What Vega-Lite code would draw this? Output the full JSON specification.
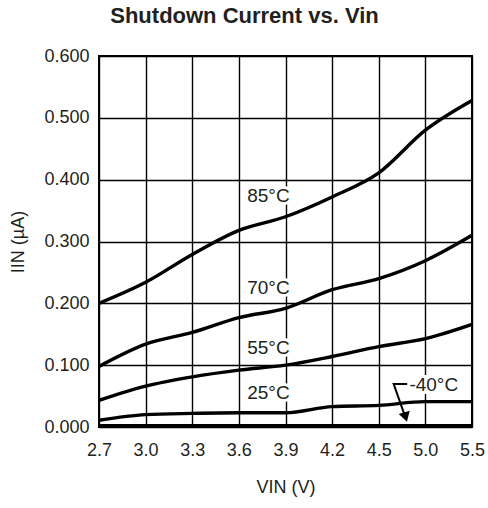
{
  "$schema": "https://vega.github.io/schema/vega-lite/v6.json",
  "width": 373,
  "height": 371,
  "autosize": {"type": "none"},
  "padding": {"left": 99, "top": 56, "right": 16, "bottom": 81},
  "background": "white",
  "title": {
    "text": "Shutdown Current vs. Vin",
    "font": "Liberation Sans",
    "fontSize": 22,
    "fontWeight": "bold",
    "color": "#231f20",
    "anchor": "middle",
    "dx": -41,
    "offset": 19
  },
  "config": {
    "view": {"stroke": "black", "strokeWidth": 2},
    "font": "Liberation Sans",
    "axis": {
      "labelFont": "Liberation Sans",
      "titleFont": "Liberation Sans",
      "labelFontSize": 18,
      "titleFontSize": 18,
      "titleFontWeight": "normal",
      "labelColor": "#231f20",
      "titleColor": "#231f20",
      "grid": true,
      "gridColor": "black",
      "gridWidth": 1.4,
      "gridOpacity": 1,
      "ticks": false,
      "domain": false
    }
  },
  "datasets": {
    "curves": [
      {"vin": 2.7, "current": 0.200, "temp": "85°C"},
      {"vin": 3.0, "current": 0.234, "temp": "85°C"},
      {"vin": 3.3, "current": 0.279, "temp": "85°C"},
      {"vin": 3.6, "current": 0.318, "temp": "85°C"},
      {"vin": 3.9, "current": 0.340, "temp": "85°C"},
      {"vin": 4.2, "current": 0.372, "temp": "85°C"},
      {"vin": 4.5, "current": 0.411, "temp": "85°C"},
      {"vin": 5.0, "current": 0.480, "temp": "85°C"},
      {"vin": 5.5, "current": 0.528, "temp": "85°C"},
      {"vin": 2.7, "current": 0.098, "temp": "70°C"},
      {"vin": 3.0, "current": 0.134, "temp": "70°C"},
      {"vin": 3.3, "current": 0.153, "temp": "70°C"},
      {"vin": 3.6, "current": 0.177, "temp": "70°C"},
      {"vin": 3.9, "current": 0.192, "temp": "70°C"},
      {"vin": 4.2, "current": 0.222, "temp": "70°C"},
      {"vin": 4.5, "current": 0.240, "temp": "70°C"},
      {"vin": 5.0, "current": 0.269, "temp": "70°C"},
      {"vin": 5.5, "current": 0.310, "temp": "70°C"},
      {"vin": 2.7, "current": 0.043, "temp": "55°C"},
      {"vin": 3.0, "current": 0.066, "temp": "55°C"},
      {"vin": 3.3, "current": 0.081, "temp": "55°C"},
      {"vin": 3.6, "current": 0.092, "temp": "55°C"},
      {"vin": 3.9, "current": 0.100, "temp": "55°C"},
      {"vin": 4.2, "current": 0.114, "temp": "55°C"},
      {"vin": 4.5, "current": 0.130, "temp": "55°C"},
      {"vin": 5.0, "current": 0.143, "temp": "55°C"},
      {"vin": 5.5, "current": 0.166, "temp": "55°C"},
      {"vin": 2.7, "current": 0.011, "temp": "25°C"},
      {"vin": 3.0, "current": 0.020, "temp": "25°C"},
      {"vin": 3.3, "current": 0.022, "temp": "25°C"},
      {"vin": 3.6, "current": 0.023, "temp": "25°C"},
      {"vin": 3.9, "current": 0.023, "temp": "25°C"},
      {"vin": 4.2, "current": 0.033, "temp": "25°C"},
      {"vin": 4.5, "current": 0.035, "temp": "25°C"},
      {"vin": 5.0, "current": 0.041, "temp": "25°C"},
      {"vin": 5.5, "current": 0.041, "temp": "25°C"},
      {"vin": 2.7, "current": 0.002, "temp": "-40°C"},
      {"vin": 3.0, "current": 0.002, "temp": "-40°C"},
      {"vin": 3.3, "current": 0.002, "temp": "-40°C"},
      {"vin": 3.6, "current": 0.002, "temp": "-40°C"},
      {"vin": 3.9, "current": 0.002, "temp": "-40°C"},
      {"vin": 4.2, "current": 0.002, "temp": "-40°C"},
      {"vin": 4.5, "current": 0.002, "temp": "-40°C"},
      {"vin": 5.0, "current": 0.002, "temp": "-40°C"},
      {"vin": 5.5, "current": 0.002, "temp": "-40°C"}
    ],
    "labels": [
      {"label": "85°C", "vin": 3.79, "current": 0.374},
      {"label": "70°C", "vin": 3.79, "current": 0.225},
      {"label": "55°C", "vin": 3.79, "current": 0.128},
      {"label": "25°C", "vin": 3.79, "current": 0.055},
      {"label": "-40°C", "vin": 5.09, "current": 0.068}
    ],
    "leader": [
      {"step": 1, "vin": 4.81, "current": 0.0695},
      {"step": 2, "vin": 4.66, "current": 0.0695},
      {"step": 3, "vin": 4.785, "current": 0.016}
    ],
    "arrow": [
      {"vin": 4.788, "current": 0.016}
    ]
  },
  "encoding": {
    "x": {
      "field": "vin",
      "type": "quantitative",
      "scale": {
        "type": "linear",
        "domain": [2.7, 4.5, 5.5],
        "range": [0, {"expr": "width*0.75"}, {"expr": "width"}],
        "nice": false,
        "zero": false
      },
      "axis": {
        "values": [2.7, 3.0, 3.3, 3.6, 3.9, 4.2, 4.5, 5.0, 5.5],
        "format": ".1f",
        "labelFlush": false,
        "labelOverlap": false,
        "labelPadding": 14,
        "title": "VIN (V)",
        "titlePadding": 19
      }
    },
    "y": {
      "field": "current",
      "type": "quantitative",
      "scale": {"domain": [0, 0.6], "nice": false, "zero": false},
      "axis": {
        "values": [0, 0.1, 0.2, 0.3, 0.4, 0.5, 0.6],
        "format": ".3f",
        "labelPadding": 10,
        "title": "IIN (µA)",
        "titlePadding": 16
      }
    }
  },
  "layer": [
    {
      "data": {"name": "curves"},
      "mark": {"type": "line", "color": "black", "strokeWidth": 3.4, "interpolate": "monotone", "clip": true},
      "encoding": {"detail": {"field": "temp", "type": "nominal"}}
    },
    {
      "data": {"name": "leader"},
      "mark": {"type": "line", "color": "black", "strokeWidth": 2},
      "encoding": {"order": {"field": "step", "type": "quantitative"}}
    },
    {
      "data": {"name": "arrow"},
      "mark": {"type": "point", "shape": "triangle-down", "filled": true, "color": "black", "size": 130, "angle": -16, "opacity": 1}
    },
    {
      "data": {"name": "labels"},
      "mark": {"type": "text", "font": "Liberation Sans", "fontSize": 19, "align": "center", "baseline": "middle", "stroke": "white", "strokeWidth": 6, "fill": "white"},
      "encoding": {"text": {"field": "label", "type": "nominal"}}
    },
    {
      "data": {"name": "labels"},
      "mark": {"type": "text", "font": "Liberation Sans", "fontSize": 19, "align": "center", "baseline": "middle", "color": "#231f20"},
      "encoding": {"text": {"field": "label", "type": "nominal"}}
    }
  ]
}
